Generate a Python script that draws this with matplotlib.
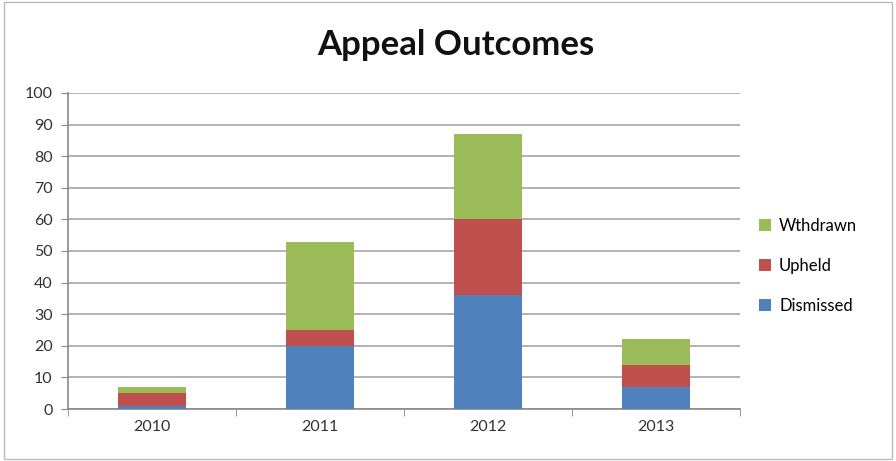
import matplotlib
matplotlib.use("Agg")
import matplotlib.pyplot as plt
import numpy as np

years = ["2010", "2011", "2012", "2013"]
dismissed = [1, 20, 36, 7]
upheld = [4, 5, 24, 7]
withdrawn = [2, 28, 27, 8]

plt.rcParams['font.family'] = ['Lato', 'DejaVu Sans']

fig = plt.figure(figsize=(8.96, 4.61), dpi=100)
ax = fig.add_axes([68/896, 1-409/461, (740-68)/896, (409-93)/461])

x = np.arange(len(years))
w = 0.4
c_d, c_u, c_w = "#4F81BD", "#C0504D", "#9BBB59"
b1 = ax.bar(x, dismissed, w, color=c_d, label="Dismissed", zorder=3)
bot2 = np.array(dismissed)
b2 = ax.bar(x, upheld, w, bottom=bot2, color=c_u, label="Upheld", zorder=3)
bot3 = bot2 + np.array(upheld)
b3 = ax.bar(x, withdrawn, w, bottom=bot3, color=c_w, label="Wthdrawn", zorder=3)

ax.set_xlim(-0.5, 3.5)
ax.set_ylim(0, 100)
ax.set_yticks(range(0, 101, 10))
ax.yaxis.grid(True, color="#A6A6A6", linewidth=1.2, zorder=0)
ax.set_xticks(x)
ax.set_xticklabels(years)
ax.set_xticks([-0.5, 0.5, 1.5, 2.5, 3.5], minor=True)
ax.tick_params(axis='x', which='major', length=0, labelsize=11.5, pad=8, colors="#333333")
ax.tick_params(axis='x', which='minor', length=5, color="#888888", direction='out')
ax.tick_params(axis='y', length=5, color="#888888", labelsize=11.5, pad=6, colors="#333333")
for s in ["top", "right"]:
    ax.spines[s].set_visible(False)
ax.spines["left"].set_color("#888888")
ax.spines["bottom"].set_color("#888888")
ax.spines["left"].set_linewidth(1.2)
ax.spines["bottom"].set_linewidth(1.2)
ax.set_axisbelow(True)

fig.text(456/896, 1-45/461, "Appeal Outcomes", ha="center", va="center",
         fontsize=25, fontweight="bold", color="#111111")

handles = [b3, b2, b1]
labels = ["Wthdrawn", "Upheld", "Dismissed"]
fig.legend(handles, labels, loc="center left", bbox_to_anchor=(744/896, 1-266/461),
           frameon=False, fontsize=12, handlelength=0.7, handleheight=0.7,
           labelspacing=1.45, handletextpad=0.5)

border = plt.Rectangle((0.004, 0.004), 0.992, 0.992, transform=fig.transFigure,
                       fill=False, edgecolor="#BBBBBB", linewidth=1)
fig.patches.append(border)

fig.savefig("out.png", dpi=100)
